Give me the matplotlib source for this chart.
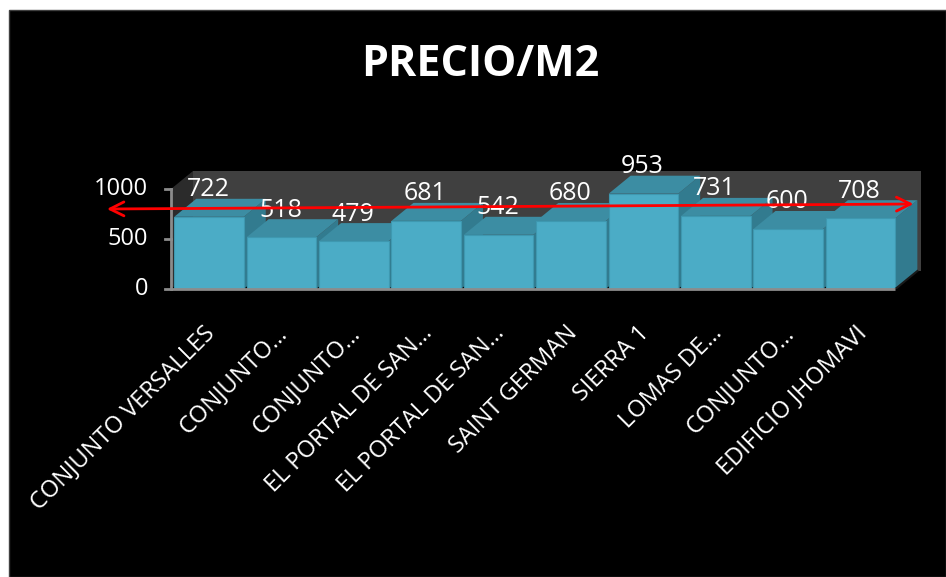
import matplotlib
matplotlib.use("Agg")
import matplotlib.pyplot as plt
from matplotlib.patches import Polygon, Rectangle, FancyArrowPatch

# Data
categories = [
    "CONJUNTO VERSALLES", "CONJUNTO…", "CONJUNTO…", "EL PORTAL DE SAN…",
    "EL PORTAL DE SAN…", "SAINT GERMAN", "SIERRA 1", "LOMAS DE…",
    "CONJUNTO…", "EDIFICIO JHOMAVI",
]
precio_m2 = [722, 518, 479, 681, 542, 680, 953, 731, 600, 708]
y_ticks = [0, 500, 1000]
title = "PRECIO/M2"

W, H = 946, 577
FONT = "Open Sans"

fig = plt.figure(figsize=(W / 100, H / 100), dpi=100, facecolor="white")

# black chart area
fig.patches.append(Rectangle((9 / W, 0), 1 - 9 / W, 1 - 10 / H,
                             transform=fig.transFigure, facecolor="black",
                             edgecolor="#404040", lw=1, zorder=-10))

# plot area in pixel terms
left_px, right_px, bottom_px, top_px = 171, 921, 289, 170
ax = fig.add_axes([left_px / W, 1 - bottom_px / H,
                   (right_px - left_px) / W, (bottom_px - top_px) / H])
ax.set_zorder(5)
ax.set_facecolor("none")
n = len(categories)
pitch_px = 72.4
first_center_px = 209
xmin = (left_px - first_center_px) / pitch_px
xmax = (right_px - first_center_px) / pitch_px
ax.set_xlim(xmin, xmax)
ymax = (bottom_px - top_px) * 10
ax.set_ylim(0, ymax)
for s in ax.spines.values():
    s.set_visible(False)
ax.set_xticks([])
ax.set_yticks([])

# depth offset converted to data units
DX_PX, DY_PX = 22, 18
ddx = DX_PX / pitch_px
ddy = DY_PX * 10
top_val = y_ticks[-1]

# walls
wall_back = Polygon([(xmin + ddx, ddy), (xmax, ddy), (xmax, top_val + ddy),
                     (xmin + ddx, top_val + ddy)],
                    closed=True, facecolor="#404040", edgecolor="none", zorder=1)
ax.add_patch(wall_back)
wall_side = Polygon([(xmin, 0), (xmin + ddx, ddy), (xmin + ddx, top_val + ddy),
                     (xmin, top_val)],
                    closed=True, facecolor="#2b2b2b", edgecolor="none", zorder=1)
ax.add_patch(wall_side)

# 3D bars
bw = 0.96
front_c, top_c, side_c = "#4bacc6", "#3c8da3", "#327b8f"
z = 2
for i, v in enumerate(precio_m2):
    x0, x1 = i - bw / 2, i + bw / 2
    side = Polygon([(x1, 0), (x1 + ddx, ddy), (x1 + ddx, v + ddy), (x1, v)],
                   closed=True, facecolor=side_c, edgecolor="none", zorder=z)
    top = Polygon([(x0, v), (x1, v), (x1 + ddx, v + ddy), (x0 + ddx, v + ddy)],
                  closed=True, facecolor=top_c, edgecolor="none", zorder=z)
    ax.add_patch(side)
    ax.add_patch(top)
    ax.bar(i, v, width=bw, color=front_c, edgecolor="#3e98b0", lw=0.8, zorder=z + 0.1)
    ax.text(i - 1 / pitch_px, v + 270, str(v), ha="center", va="center", color="white",
            fontsize=18, family=FONT, zorder=10, clip_on=False)
    z += 1

# floor edge at the right and front axis line
ax.plot([n - 1 + bw / 2, n - 1 + bw / 2 + ddx], [0, ddy], color="#1a1a1a", lw=1.5, zorder=40)
ax.plot([xmin, n - 1 + bw / 2], [0, 0], color="#8c8c8c", lw=2, zorder=40,
        solid_capstyle="butt", clip_on=False)

# value axis
ax.plot([xmin, xmin], [0, top_val], color="#8c8c8c", lw=2, zorder=40, clip_on=False)
tick_len = 6 / pitch_px
for t in y_ticks:
    ax.plot([xmin - tick_len, xmin], [t, t], color="#8c8c8c", lw=2, zorder=40, clip_on=False)
    ax.text(xmin - 23 / pitch_px, t, str(t), ha="right", va="center", color="white",
            fontsize=17, family=FONT, clip_on=False)

# category labels
for i, c in enumerate(categories):
    ax.text(i - 6 / pitch_px, -320, c, rotation=45, rotation_mode="anchor",
            ha="right", va="top", color="white", fontsize=17, family=FONT,
            clip_on=False)

# red double-headed arrow across the chart
arrow = FancyArrowPatch((-1.41, 800), (9.73, 850), arrowstyle="<->,head_length=10,head_width=5",
                        color="#ff0000", lw=2, zorder=60, clip_on=False,
                        shrinkA=0, shrinkB=0)
ax.add_patch(arrow)

fig.text(0.508, 1 - 64 / H, title, ha="center", va="center", color="white",
         fontsize=31, fontweight="bold", family=FONT)

fig.savefig("out.png", dpi=100, facecolor=fig.get_facecolor())
